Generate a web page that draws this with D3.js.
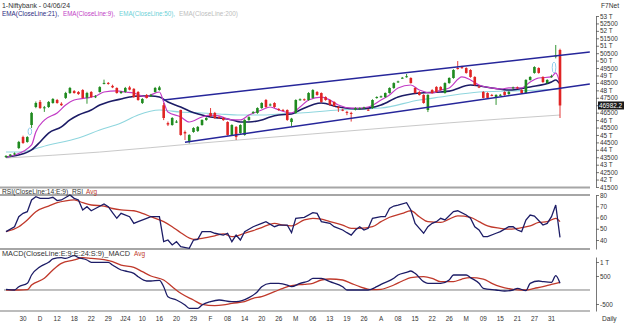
<!DOCTYPE html>
<html>
<head>
<meta charset="utf-8">
<script src="https://cdn.jsdelivr.net/npm/d3@7"></script>
<style>
  html, body { margin: 0; padding: 0; background: #fff; }
  svg { display: block; }
  text { font-family: "Liberation Sans", Arial, sans-serif; }
</style>
</head>
<body>
<svg id="chart" width="624" height="323"></svg>
<script>
// Daily Bank Nifty candles: [open, high, low, close]
const ohlc = [
  [43520,43650,43450,43580],[43600,43720,43540,43680],[43700,43820,43640,43760],[44120,44600,44050,44530],
  [44860,44950,44400,44460],[44530,44920,44480,44860],[45670,46550,45470,46480],[46880,47250,46800,47150],
  [47220,47350,46750,46810],[46810,46950,46550,46860],[46880,47280,46820,47220],[47150,47480,47100,47420],
  [47350,47420,47100,47150],[47100,47200,46950,47000],[47490,47900,47420,47820],[47820,48230,47760,48160],
  [47950,48020,47780,47820],[47890,47950,47700,47750],[48020,48080,47450,47490],[47500,47900,47100,47820],
  [47890,47950,47500,47550],[47550,47680,47480,47600],[47890,48280,47850,48220],[48450,48720,48400,48500],
  [48500,48560,48380,48430],[48300,48380,48150,48200],[48160,48200,47780,47820],[47820,47960,47760,47900],
  [47890,48230,47840,48160],[48200,48300,48000,48050],[48100,48150,47500,47550],[47890,47950,47300,47350],
  [47150,47480,47080,47420],[47690,47750,47450,47490],[47600,47760,47550,47700],[47890,48230,47850,48160],
  [48020,48300,47980,48200],[47000,47150,46000,46140],[45800,45900,45600,45700],[45670,46200,45620,46140],
  [45870,46000,45800,45900],[46680,46700,44950,45000],[45200,45300,44660,45100],[44600,45050,44430,45000],
  [45200,45520,45150,45470],[45270,45600,45200,45540],[45670,46050,45620,46010],[46010,46200,45950,46140],
  [46480,46810,46200,46270],[46480,46550,46080,46140],[46200,46260,46080,46150],[46140,46200,45950,46000],
  [45870,45920,44950,45000],[45000,45720,44950,45670],[45540,45600,44660,44860],[45130,45720,45080,45670],
  [45000,46060,44950,46010],[46010,46260,45950,46200],[46500,46600,46420,46550],[46480,46860,46420,46810],
  [46810,47200,46760,47150],[47350,47420,46820,46880],[47000,47120,46950,47050],[47150,47200,46820,46880],
  [46750,46800,46620,46700],[46680,46750,46600,46650],[46680,46720,45950,46010],[45870,46150,45600,46100],
  [46480,47400,46420,47350],[47350,47460,47300,47400],[47400,47450,47300,47350],[47350,47880,47300,47820],
  [47490,48080,47450,48020],[47890,47950,47640,47690],[47820,47860,47170,47220],[47550,47600,47300,47350],
  [47350,47400,46960,47015],[47220,47260,46900,46950],[46880,46950,46550,46800],[46700,46760,46600,46650],
  [46550,46620,46330,46500],[46480,46560,45900,46450],[46700,46860,46650,46810],[46750,46850,46700,46800],
  [46800,46900,46750,46850],[46700,46760,46620,46680],[46810,47400,46760,47350],[47490,47600,47440,47550],
  [47550,47650,47500,47600],[47550,47860,47500,47820],[47820,48200,47780,48160],[48160,48540,48100,48490],
  [48560,48650,48500,48600],[48830,48900,48780,48850],[48900,49100,48850,48950],[48830,48880,48450,48490],
  [48160,48200,47780,47820],[47890,47950,47650,47690],[47690,47740,47100,47150],[46680,47740,46540,47690],
  [48020,48080,47780,47820],[48230,48280,47850,47890],[48230,48280,47980,48020],[47820,48540,47780,48490],
  [48490,48880,48440,48830],[48830,49420,48780,49370],[49500,49970,49400,49450],[49560,49650,49450,49500],
  [49500,49550,49120,49170],[49370,49420,48850,48900],[48900,48950,48300,48360],[48250,48350,48150,48200],
  [47890,47950,47450,47490],[47820,47870,47450,47490],[47690,47760,47600,47650],[47490,47740,47020,47690],
  [47690,47760,47620,47700],[47890,47940,47640,47690],[47750,47950,47700,47900],[48150,48250,48100,48200],
  [48200,48260,48100,48150],[48020,48080,47780,47820],[47820,48750,47780,48700],[48700,48950,48650,48900],
  [49170,49620,49120,49570],[49500,49550,49120,49170],[48900,48950,48500,48560],[48490,48750,48440,48700],
  [48900,49050,48850,48950],[50300,51050,50150,50350],[50714,50800,46140,46982.2]
];
const lastClose = 46982.2;

// Moving averages, [bar, value]
const ema9 = [[0,43500],[2,43650],[6,44330],[7,45200],[9,46000],[12,46480],[14,47010],[16,47350],[19,47490],
  [21,47620],[23,47890],[26,47960],[28,47890],[30,47820],[33,47550],[34,47690],[36,47890],[37,47220],[38,46540],
  [41,46210],[43,45870],[46,46210],[48,46340],[50,46280],[53,46010],[55,46010],[57,46340],[60,46680],[62,46880],
  [64,46680],[67,46480],[69,46880],[71,47350],[74,47550],[76,47350],[78,47010],[81,46810],[83,46810],[85,46880],
  [88,47350],[90,47690],[92,48160],[95,48360],[97,48020],[100,47820],[102,48020],[104,48160],[107,48900],
  [109,48700],[111,48360],[114,48160],[116,48090],[118,48160],[121,48160],[123,48560],[125,48830],[128,48900],
  [129,49170],[130,48450]];
const ema21 = [[0,43520],[3,43650],[6,43990],[8,44530],[10,45130],[13,45540],[15,46010],[17,46340],[20,46680],
  [22,47010],[24,47220],[27,47420],[29,47550],[31,47620],[34,47620],[36,47550],[38,47220],[41,46880],[43,46610],
  [46,46340],[48,46210],[50,46140],[53,46010],[55,45870],[57,45870],[60,46010],[62,46210],[64,46340],[67,46410],
  [69,46680],[74,47150],[78,46880],[83,46750],[88,47010],[92,47550],[97,47820],[102,47890],[104,47950],[109,48360],
  [114,48160],[118,48020],[123,48230],[128,48560],[129,48700],[130,48420]];
const ema50 = [[0,43850],[3,43850],[10,44330],[17,44800],[22,45330],[27,45800],[31,46340],[36,46680],[41,46540],
  [46,46480],[50,46410],[55,46340],[60,46340],[64,46410],[69,46480],[78,46680],[88,46810],[97,47350],[102,47550],
  [111,47890],[118,47960],[125,48020],[130,48090]];
const ema200 = [[0,43450],[22,43850],[46,44460],[72,45070],[92,45540],[116,46070],[130,46340]];

// Channel drawn across the range, [bar, price]
const upperChannel = [[37,47350],[137,50580]];
const lowerChannel = [[42,44510],[137,48430]];

// Opening gaps marked on the chart, [bar, from, to]
const gaps = [[6,45000,45470],[129,49170,49900]];

// RSI(14) and its 9-period average, [bar, value]
const rsi = [[0,47.4],[2,51.8],[3,60.7],[4,63.7],[5,65.2],[6,75.6],[7,78.5],[8,77],[10,77],[11,78],[12,75],[13,75.6],
  [15,80],[16,77],[17,75.6],[18,66.7],[19,69.6],[20,66],[21,68],[23,72],[24,69.6],[25,64.3],[26,59.3],[27,63.7],
  [29,60.7],[30,54.8],[31,56.3],[33,59.3],[34,60.7],[36,60.7],[37,38.5],[38,40],[39,35.6],[40,38.5],[41,34],
  [43,32.6],[44,40],[45,40.6],[46,47.4],[48,47.4],[49,46],[51,44.4],[52,46],[53,38.5],[54,44.4],[55,40],[56,47.4],
  [58,51.8],[60,54.8],[61,56.3],[63,51.8],[64,53.3],[66,53.3],[67,46.5],[68,59.3],[70,60.2],[72,64.3],[73,63.7],
  [74,56.3],[76,54.8],[77,51.8],[79,48.9],[80,46.5],[81,44.4],[82,48.9],[83,51.8],[84,48.9],[85,50.4],[86,59.3],
  [88,60.7],[89,60.7],[90,68.1],[91,70.2],[92,71.1],[94,73.2],[95,66.7],[96,54.8],[97,50.4],[98,46],[99,51.8],
  [100,54.8],[101,56.3],[102,59.3],[103,57.8],[105,65.2],[106,66],[108,62.2],[109,59.3],[110,51.8],[111,48.9],
  [112,43],[113,43],[115,46],[116,47.4],[118,51.8],[119,51.8],[120,48.9],[121,47.4],[122,57.8],[123,62.2],
  [124,61.3],[126,53.3],[127,54.8],[128,60.7],[129,71.1],[130,42.4]];
const rsiAvg = [[0,47.4],[3,51.8],[5,57.8],[7,65.2],[10,70.2],[12,73.2],[14,74.8],[16,75.6],[18,73.2],[20,71.1],
  [23,70.2],[25,68],[27,66.7],[30,66],[32,63.7],[34,60.7],[37,56.3],[39,51.8],[41,46.5],[44,40.6],[46,41.5],
  [49,43.7],[51,45.5],[53,43],[56,46],[58,48.3],[60,51.1],[63,54.8],[65,53.3],[67,52.5],[70,57.8],[72,59.3],
  [74,58.5],[76,56.3],[79,53.3],[81,50.4],[83,50.4],[86,51.8],[88,56.3],[90,60.2],[93,63.7],[95,66],[97,60.7],
  [99,56.3],[102,55.6],[104,58.5],[106,61.5],[109,60.2],[111,56.3],[113,52.5],[116,50.4],[118,49.6],[120,50.4],
  [123,52.5],[125,55.6],[127,56.3],[129,59.3],[130,56.3]];

// MACD(9,24) line and its signal average, [bar, value]
const macd = [[0,25],[2,0],[3,118],[5,238],[6,535],[8,833],[10,988],[11,1107],[13,1154],[14,1130],[16,1225],
  [17,1154],[19,1071],[20,988],[22,988],[24,988],[25,892],[27,714],[28,678],[30,595],[31,476],[33,321],[34,321],
  [36,345],[37,118],[38,-238],[40,-357],[42,-535],[43,-654],[45,-654],[46,-535],[48,-416],[50,-357],[53,-416],
  [54,-416],[57,-274],[59,-60],[60,118],[62,238],[64,238],[66,178],[67,118],[69,238],[71,321],[72,416],[74,416],
  [76,297],[79,118],[80,0],[83,0],[85,0],[87,118],[88,202],[91,416],[92,535],[94,630],[95,678],[96,595],[98,297],
  [99,238],[102,238],[104,357],[105,535],[108,535],[109,440],[111,238],[112,60],[115,0],[117,-36],[119,0],[120,60],
  [122,-24],[123,238],[125,321],[126,300],[128,274],[129,511],[130,238]];
const macdAvg = [[0,0],[3,0],[5,12],[6,178],[9,416],[11,714],[13,952],[16,1071],[18,1154],[20,1130],[23,1083],
  [25,1012],[27,892],[30,809],[32,654],[34,500],[37,357],[39,118],[41,-119],[44,-357],[46,-511],[49,-559],[51,-535],
  [53,-476],[56,-416],[58,-297],[60,-238],[63,-60],[65,60],[67,155],[70,202],[72,238],[74,357],[76,392],[79,357],
  [81,238],[83,118],[86,12],[88,24],[91,178],[93,321],[95,440],[98,476],[100,416],[102,297],[105,297],[107,392],
  [109,440],[112,392],[114,238],[116,118],[119,24],[121,0],[122,0],[124,60],[126,118],[128,202],[130,274]];

// Axis labels
const dayLabels = ["30","D","12","18","22","29","J24","10","16","20","29","F","08","14","20","26","M",
  "06","13","19","26","A","08","15","22","26","M","09","15","21","27","31"];
const priceTicks = [41500,42000,42500,43000,43500,44000,44500,45000,45500,46000,46500,47000,47500,
  48000,48500,49000,49500,50000,50500,51000,51500,52000,52500,53000];
const rsiTicks = [40,50,60,70,80];
const macdTicks = [1000,500,-500];

const C = {
  up: "#1f8a1f", down: "#e02424", navy: "#1c1c66", ema9: "#c23cc6", ema50: "#8fd6de",
  ema200: "#c9c9c9", channel: "#26269a", avg: "#c0392b", sep: "#a6a6a6", axis: "#555", text: "#333"
};

const svg = d3.select("#chart");
const x = d3.scaleLinear().domain([0, 130]).range([6, 560]);
const yMain = d3.scaleLinear().domain([41500, 53000]).range([187, 16]);
const yRsi = d3.scaleLinear().domain([32, 80]).range([249, 195]);
const yMacd = d3.scaleLinear().domain([-750, 1178]).range([311, 257]);
const axisX = 596;

// Panel separators
const seps = [[187.5, 2, C.sep], [195, 2, C.sep], [249, 2, C.sep], [311, 1.6, C.sep]];
svg.selectAll("line.sep").data(seps).join("line")
  .attr("x1", 0).attr("x2", 590).attr("y1", d => d[0]).attr("y2", d => d[0])
  .attr("stroke", d => d[2]).attr("stroke-width", d => d[1]);
svg.append("line").attr("x1", 4).attr("x2", 590).attr("y1", yMacd(0)).attr("y2", yMacd(0))
  .attr("stroke", "#808080").attr("stroke-width", 1);

const lineGen = (yS, curve) => d3.line().x(d => x(d[0])).y(d => yS(d[1])).curve(curve);

// Moving averages
[[ema200, C.ema200, 1], [ema50, C.ema50, 1.1], [ema21, C.navy, 1.6], [ema9, C.ema9, 1.2]].forEach(([data, col, w]) => {
  svg.append("path").attr("d", lineGen(yMain, d3.curveMonotoneX)(data))
    .attr("fill", "none").attr("stroke", col).attr("stroke-width", w);
});

// Candles
const bw = 2.6;
const cg = svg.append("g");
ohlc.forEach((d, i) => {
  const [o, h, l, c] = d;
  const col = c >= o ? C.up : C.down;
  cg.append("line").attr("x1", x(i)).attr("x2", x(i)).attr("y1", yMain(h)).attr("y2", yMain(l))
    .attr("stroke", col).attr("stroke-width", 0.9);
  const top = yMain(Math.max(o, c)), bot = yMain(Math.min(o, c));
  cg.append("rect").attr("x", x(i) - bw / 2).attr("y", top).attr("width", bw)
    .attr("height", Math.max(1, bot - top)).attr("fill", col);
});

// Gap markers
gaps.forEach(([b, lo, hi]) => {
  svg.append("ellipse").attr("cx", x(b - 0.4)).attr("cy", (yMain(lo) + yMain(hi)) / 2)
    .attr("rx", 1.8).attr("ry", (yMain(lo) - yMain(hi)) / 2)
    .attr("fill", "none").attr("stroke", "#86c8ea").attr("stroke-width", 0.9);
});

// Channel lines
[upperChannel, lowerChannel].forEach(pts => {
  svg.append("line").attr("x1", x(pts[0][0])).attr("y1", yMain(pts[0][1]))
    .attr("x2", x(pts[1][0])).attr("y2", yMain(pts[1][1]))
    .attr("stroke", C.channel).attr("stroke-width", 1.5);
});

// RSI panel
svg.append("path").attr("d", lineGen(yRsi, d3.curveMonotoneX)(rsiAvg))
  .attr("fill", "none").attr("stroke", C.avg).attr("stroke-width", 1.3);
svg.append("path").attr("d", lineGen(yRsi, d3.curveLinear)(rsi))
  .attr("fill", "none").attr("stroke", C.navy).attr("stroke-width", 1.3);

// MACD panel
svg.append("path").attr("d", lineGen(yMacd, d3.curveMonotoneX)(macdAvg))
  .attr("fill", "none").attr("stroke", C.avg).attr("stroke-width", 1.3);
svg.append("path").attr("d", lineGen(yMacd, d3.curveMonotoneX)(macd))
  .attr("fill", "none").attr("stroke", C.navy).attr("stroke-width", 1.3);

// Right-hand axes
const styleAxis = g => {
  g.selectAll("path.domain").attr("stroke", C.axis).attr("stroke-width", 0.8);
  g.selectAll(".tick line").attr("stroke", C.axis).attr("stroke-width", 0.8);
  g.selectAll(".tick text").attr("fill", C.text).attr("font-size", 6.4)
    .attr("font-family", "Liberation Sans, Arial, sans-serif").attr("x", 4);
};
const kfmt = v => (v % 1000 === 0 ? (v / 1000) + " T" : String(v));
const ty = yMain(lastClose);
svg.append("g").attr("transform", `translate(${axisX},0)`)
  .call(d3.axisRight(yMain).tickValues(priceTicks).tickSize(3).tickSizeOuter(0).tickFormat(kfmt))
  .call(styleAxis)
  // the last-price tag sits over any label it would collide with
  .call(g => g.selectAll(".tick text").filter(v => Math.abs(yMain(v) - ty) < 6).remove());
svg.append("g").attr("transform", `translate(${axisX},0)`)
  .call(d3.axisRight(yRsi).tickValues(rsiTicks).tickSize(3).tickSizeOuter(0).tickFormat(d3.format("d")))
  .call(styleAxis);
svg.append("g").attr("transform", `translate(${axisX},0)`)
  .call(d3.axisRight(yMacd).tickValues(macdTicks).tickSize(3).tickSizeOuter(0).tickFormat(kfmt))
  .call(styleAxis);

// Last price tag
svg.append("rect").attr("x", 598).attr("y", ty - 4).attr("width", 26).attr("height", 8).attr("fill", "#1a1a1a");
svg.append("text").attr("x", 599).attr("y", ty + 2.3).attr("fill", "#fff").attr("font-size", 6.4)
  .text(d3.format(".1f")(lastClose));

// Date labels
svg.selectAll("text.day").data(dayLabels).join("text")
  .attr("x", (d, k) => x(4 + 4 * k)).attr("y", 320.5).attr("text-anchor", "middle")
  .attr("font-size", 6.4).attr("fill", C.text).text(d => d);
svg.append("text").attr("x", 602).attr("y", 320.5).attr("font-size", 6.6).attr("fill", C.text).text("Daily");

// Titles and legends
const label = (tx, ty, str, col, len, size) => svg.append("text").attr("x", tx).attr("y", ty)
  .attr("font-size", size || 7).attr("fill", col).attr("textLength", len)
  .attr("lengthAdjust", "spacingAndGlyphs").text(str);
label(2, 8, "1-Niftybank - 04/06/24", C.text, 68);
label(601, 8, "F7Net", C.text, 18);
label(2, 15.5, "EMA(CloseLine:21),", "#2b2b80", 57);
label(63, 15.5, "EMA(CloseLine:9),", C.ema9, 52);
label(119, 15.5, "EMA(CloseLine:50),", "#6cd0d6", 56);
label(179, 15.5, "EMA(CloseLine:200)", "#bdbdbd", 59);
label(2, 193.6, "RSI(CloseLine:14:E:9)_RSI", C.text, 81, 6.6);
label(86, 193.6, "Avg", C.avg, 11, 6.6);
label(2, 255.5, "MACD(CloseLine:E:9:E:24:S:9)_MACD", C.text, 128, 6.6);
label(134, 255.5, "Avg", C.avg, 11, 6.6);
</script>
</body>
</html>
